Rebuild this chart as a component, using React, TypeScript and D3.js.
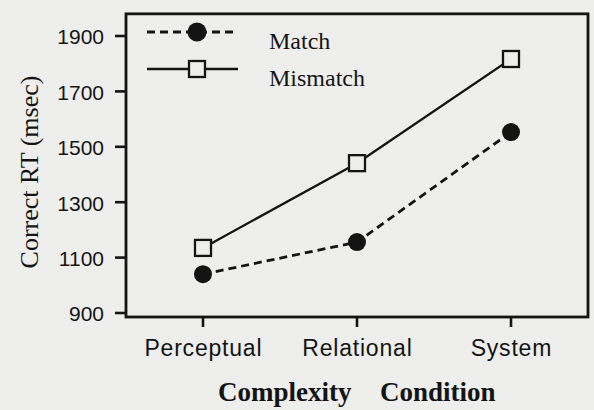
import React from "react";
import * as d3 from "d3";

const categories = ["Perceptual", "Relational", "System"];
const matchValues = [1040, 1156, 1553];
const mismatchValues = [1135, 1441, 1817];
const yTicks = [900, 1100, 1300, 1500, 1700, 1900];

export default function App() {
  const W = 594, H = 410;
  const x = d3.scalePoint<string>().domain(categories).range([126, 588]).padding(0.5);
  const y = d3.scaleLinear().domain([900, 1900]).range([313, 36]);
  const top = y(1980);
  const bottom = y(900);
  const ink = "#141414";
  const bg = "#eeeeec";
  const line = d3.line<number>().x((_, i) => x(categories[i])!).y((d) => y(d));
  const serif = "'Liberation Serif', 'DejaVu Serif', serif";
  const sans = "'Liberation Sans', Arial, sans-serif";
  return (
    <svg width={W} height={H} style={{ position: "absolute", left: 0, top: 0, background: bg }}>
      <rect x={0} y={0} width={W} height={H} fill={bg} />
      <rect x={126} y={top} width={588 - 126} height={bottom - top + 4} fill="none" stroke={ink} strokeWidth={2.8} />
      {yTicks.map((t) => (
        <g key={t}>
          <line x1={115} x2={126} y1={y(t)} y2={y(t)} stroke={ink} strokeWidth={2.6} />
          <text x={104} y={y(t)} dy="0.4em" textAnchor="end" fontFamily={sans} fontSize={21} fill={ink}>{t}</text>
        </g>
      ))}
      {categories.map((c) => (
        <g key={c}>
          <line x1={x(c)} x2={x(c)} y1={bottom + 4} y2={bottom + 14} stroke={ink} strokeWidth={2.6} />
          <text x={x(c)! + 0.4} y={bottom + 43} textAnchor="middle" fontFamily={sans} fontSize={23} letterSpacing={0.8} fill={ink}>{c}</text>
        </g>
      ))}
      <text transform={`translate(38,172) rotate(-90)`} textAnchor="middle" fontFamily={serif} fontSize={26} fill={ink}>Correct RT (msec)</text>
      <text x={218} y={401} fontFamily={serif} fontSize={27} fontWeight="bold" fill={ink}>Complexity</text>
      <text x={380} y={401} fontFamily={serif} fontSize={27} fontWeight="bold" fill={ink}>Condition</text>

      <path d={line(mismatchValues)!} fill="none" stroke={ink} strokeWidth={2.3} />
      <path d={line(matchValues)!} fill="none" stroke={ink} strokeWidth={2.8} strokeDasharray="8,5" />
      {mismatchValues.map((v, i) => (
        <rect key={"s" + i} x={x(categories[i])! - 8} y={y(v) - 8} width={16} height={16} fill={bg} stroke={ink} strokeWidth={2.3} />
      ))}
      {matchValues.map((v, i) => (
        <circle key={"c" + i} cx={x(categories[i])} cy={y(v)} r={9} fill={ink} />
      ))}

      <line x1={147} x2={238} y1={32} y2={32} stroke={ink} strokeWidth={2.8} strokeDasharray="8,5" />
      <circle cx={197} cy={32} r={9.5} fill={ink} />
      <text x={269} y={49} fontFamily={serif} fontSize={24} fill={ink}>Match</text>
      <line x1={147} x2={238} y1={69} y2={69} stroke={ink} strokeWidth={2.3} />
      <rect x={189} y={61} width={16} height={16} fill={bg} stroke={ink} strokeWidth={2.3} />
      <text x={269} y={86} fontFamily={serif} fontSize={24} fill={ink}>Mismatch</text>
    </svg>
  );
}
